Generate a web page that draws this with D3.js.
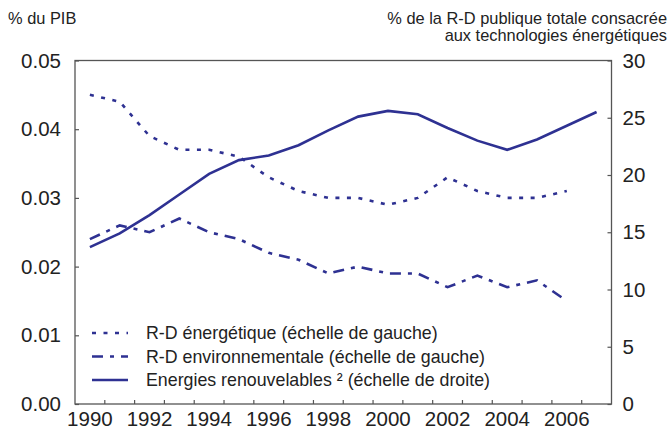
<!DOCTYPE html>
<html><head><meta charset="utf-8">
<script src="https://cdn.jsdelivr.net/npm/d3@7"></script>
<style>body{margin:0;background:#fff}svg{display:block}text{font-family:"Liberation Sans",Arial,sans-serif;fill:#222}</style>
</head><body><svg id="c" width="671" height="432"></svg>
<script>
const years = d3.range(1990, 2008);
const tickYears = [1990,1992,1994,1996,1998,2000,2002,2004,2006];
const energyRD = [0.045,0.044,0.039,0.037,0.037,0.036,0.033,0.031,0.030,0.030,0.029,0.030,0.033,0.031,0.030,0.030,0.031];
const envRD = [0.024,0.026,0.025,0.027,0.025,0.024,0.022,0.021,0.019,0.020,0.019,0.019,0.017,0.0187,0.017,0.018,0.015];
const renewables = [13.7,14.9,16.5,18.3,20.1,21.3,21.7,22.6,23.9,25.1,25.6,25.3,24.1,23.0,22.2,23.1,24.3,25.5];
const leftTicks = [0,0.01,0.02,0.03,0.04,0.05];
const rightTicks = [0,5,10,15,20,25,30];
const legendLabels = ["R-D énergétique (échelle de gauche)","R-D environnementale (échelle de gauche)","Energies renouvelables ² (échelle de droite)"];

const svg = d3.select("#c");
const L = 75, R = 611.5, T = 60.5, B = 404;
const color = "#2e3192", axisCol = "#555";
const tickFont = 20.5, legFont = 17.8, titleFont = 16.4;
const x = d3.scaleBand().domain(years).range([L, R]);
const yL = d3.scaleLinear().domain([0, 0.05]).range([B, T]);
const yR = d3.scaleLinear().domain([0, 30]).range([B, T]);
const cx = yr => x(yr) + x.bandwidth()/2;

// frame
svg.append("rect").attr("x",L).attr("y",T).attr("width",R-L).attr("height",B-T)
  .attr("fill","none").attr("stroke",axisCol).attr("stroke-width",1.3);

const gl = svg.append("g").attr("transform",`translate(${L},0)`)
  .call(d3.axisLeft(yL).tickValues(leftTicks).tickFormat(d3.format(".2f")).tickSizeInner(-4).tickSizeOuter(0).tickPadding(14));
gl.select(".domain").remove();
gl.selectAll("line").attr("stroke",axisCol).attr("stroke-width",1.2);
gl.selectAll("text").attr("font-size",tickFont).style("fill","#222");

const gr = svg.append("g").attr("transform",`translate(${R},0)`)
  .call(d3.axisRight(yR).tickValues(rightTicks).tickSizeInner(-4).tickSizeOuter(0).tickPadding(11));
gr.select(".domain").remove();
gr.selectAll("line").attr("stroke",axisCol).attr("stroke-width",1.2);
gr.selectAll("text").attr("font-size",tickFont).style("fill","#222");
gl.attr("font-family",null); gr.attr("font-family",null);

// x axis: ticks at category boundaries
const boundaries = years.slice(1).map(yr => x(yr));
svg.append("g").selectAll("line").data(boundaries).join("line")
  .attr("x1",d=>d).attr("x2",d=>d).attr("y1",B).attr("y2",B-4)
  .attr("stroke",axisCol).attr("stroke-width",1.2);
svg.append("g").selectAll("text").data(tickYears).join("text")
  .attr("x",d=>cx(d)).attr("y",B+22).attr("text-anchor","middle")
  .attr("font-size",tickFont).text(d=>d);

// titles
svg.append("text").attr("x",8).attr("y",24).attr("font-size",titleFont).text("% du PIB");
svg.append("text").attr("x",667).attr("y",24).attr("text-anchor","end").attr("font-size",titleFont).text("% de la R-D publique totale consacrée");
svg.append("text").attr("x",667).attr("y",41).attr("text-anchor","end").attr("font-size",titleFont).text("aux technologies énergétiques");

// lines
const dashes = ["4,7.5","11,7,4,7",null];
const lineL = d3.line().x((d,i)=>cx(years[i])).y(d=>yL(d));
const lineR = d3.line().x((d,i)=>cx(years[i])).y(d=>yR(d));
const series = [
  {vals: energyRD, gen: lineL, dash: dashes[0]},
  {vals: envRD, gen: lineL, dash: dashes[1]},
  {vals: renewables, gen: lineR, dash: dashes[2]}
];
series.forEach(s => {
  svg.append("path").attr("d", s.gen(s.vals)).attr("fill","none")
    .attr("stroke",color).attr("stroke-width",2.6)
    .attr("stroke-dasharray", s.dash);
});

// legend
const lg = svg.append("g");
legendLabels.forEach((lab,i) => {
  const yy = 333 + i*23.5;
  lg.append("line").attr("x1",92).attr("x2",128).attr("y1",yy).attr("y2",yy)
    .attr("stroke",color).attr("stroke-width",2.6).attr("stroke-dasharray",dashes[i]);
  lg.append("text").attr("x",146).attr("y",yy+6).attr("font-size",legFont).text(lab);
});
</script></body></html>
